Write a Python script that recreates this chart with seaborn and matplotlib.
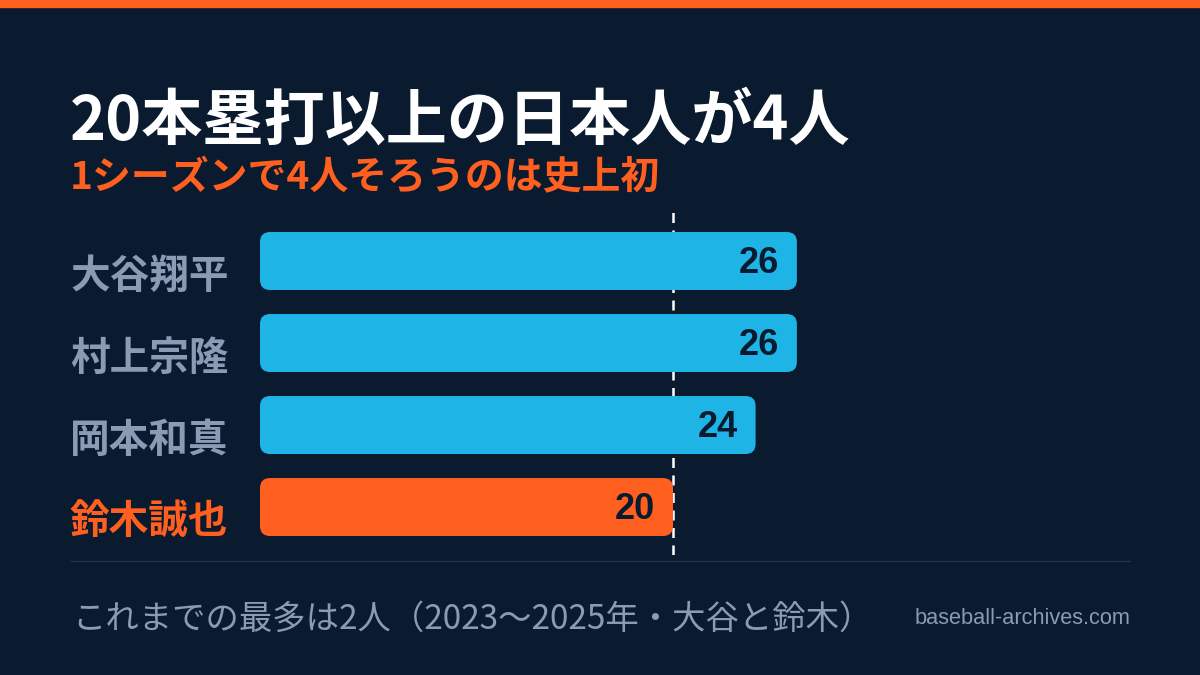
import matplotlib.pyplot as plt
import pandas as pd
import seaborn as sns
from matplotlib.patches import FancyBboxPatch, Rectangle
from matplotlib.lines import Line2D
from matplotlib.transforms import blended_transform_factory

# データ
players = ["大谷翔平", "村上宗隆", "岡本和真", "鈴木誠也"]
homers = [26, 26, 24, 20]
bar_colors = ["#1EB4E6", "#1EB4E6", "#1EB4E6", "#FF5F1F"]
label_colors = ["#8A9BB4", "#8A9BB4", "#8A9BB4", "#FF5F1F"]
threshold = 20

title = "20本塁打以上の日本人が4人"
subtitle = "1シーズンで4人そろうのは史上初"
footnote = "これまでの最多は2人（2023〜2025年・大谷と鈴木）"
source = "baseball-archives.com"

BG = "#0A1A2F"
ORANGE = "#FF5F1F"
NAVY = "#0A1A2F"

sns.set_theme(style="white")
plt.rcParams["font.family"] = ["Noto Sans CJK JP", "DejaVu Sans"]

df = pd.DataFrame({"player": players, "hr": homers})

W, H = 1200, 675
fig = plt.figure(figsize=(12, 6.75), dpi=100, facecolor=BG)


def fx(px):
    return px / W


def fy(py):
    return 1 - py / H


# 上部のオレンジ帯
fig.patches.append(Rectangle((0, fy(7)), 1, 7 / H, transform=fig.transFigure,
                             color=ORANGE, zorder=0))

ax = fig.add_axes([fx(260), fy(555), fx(826), (555 - 210) / H])
ax.set_facecolor(BG)

sns.barplot(data=df, x="hr", y="player", hue="player", palette=bar_colors,
            saturation=1, legend=False, orient="h", width=0.707, ax=ax,
            zorder=3)

ax.set_xlim(0, 40)
ax.set_ylim(3.585, -0.622)

# 角丸のバーに置き換え
px_per_x = 826 / 40
px_per_y = 345 / (3.585 + 0.622)
for patch in list(ax.patches):
    x0, y0 = patch.get_x(), patch.get_y()
    w, h = patch.get_width(), patch.get_height()
    fc = patch.get_facecolor()
    patch.remove()
    rb = FancyBboxPatch((x0, y0), w, h,
                        boxstyle="round,pad=0,rounding_size=%f" % (10 / px_per_x),
                        mutation_aspect=px_per_x / px_per_y,
                        facecolor=fc, edgecolor="none", zorder=3)
    ax.add_patch(rb)

# 20本のライン
ax.axvline(threshold, color="white", lw=1.8, dashes=(4, 3), zorder=1)

# 数値ラベル
for i, v in enumerate(homers):
    ax.text(v - 18 / px_per_x, i + 2 / px_per_y, str(v), ha="right",
            va="center", fontsize=26, fontweight="bold", color=NAVY,
            family=["Liberation Sans", "DejaVu Sans"], zorder=4)

# 選手名
trans = blended_transform_factory(fig.transFigure, ax.transData)
for i, name in enumerate(players):
    ax.text(fx(70), i + 15 / px_per_y, name, transform=trans, ha="left",
            va="center", fontsize=28.5, fontweight="bold",
            color=label_colors[i])

ax.set_xlabel("")
ax.set_ylabel("")
ax.set_xticks([])
ax.set_yticks([])
sns.despine(ax=ax, left=True, bottom=True)

# タイトル
fig.text(fx(70), fy(122), title, ha="left", va="center", fontsize=44,
         fontweight="bold", color="white")
fig.text(fx(70), fy(178), subtitle, ha="left", va="center", fontsize=28,
         fontweight="bold", color=ORANGE)

# 区切り線
fig.lines.append(Line2D([fx(70), fx(1130)], [fy(561), fy(561)],
                        transform=fig.transFigure, color="#1F3248", lw=1))

# 脚注
fig.text(fx(72), fy(619), footnote, ha="left", va="center", fontsize=24,
         color="#8A9BB4")
fig.text(fx(1130), fy(619), source, ha="right", va="center", fontsize=15.7,
         color="#8A9BB4", family=["Liberation Sans", "DejaVu Sans"])

fig.savefig("out.png", dpi=100, facecolor=BG)
